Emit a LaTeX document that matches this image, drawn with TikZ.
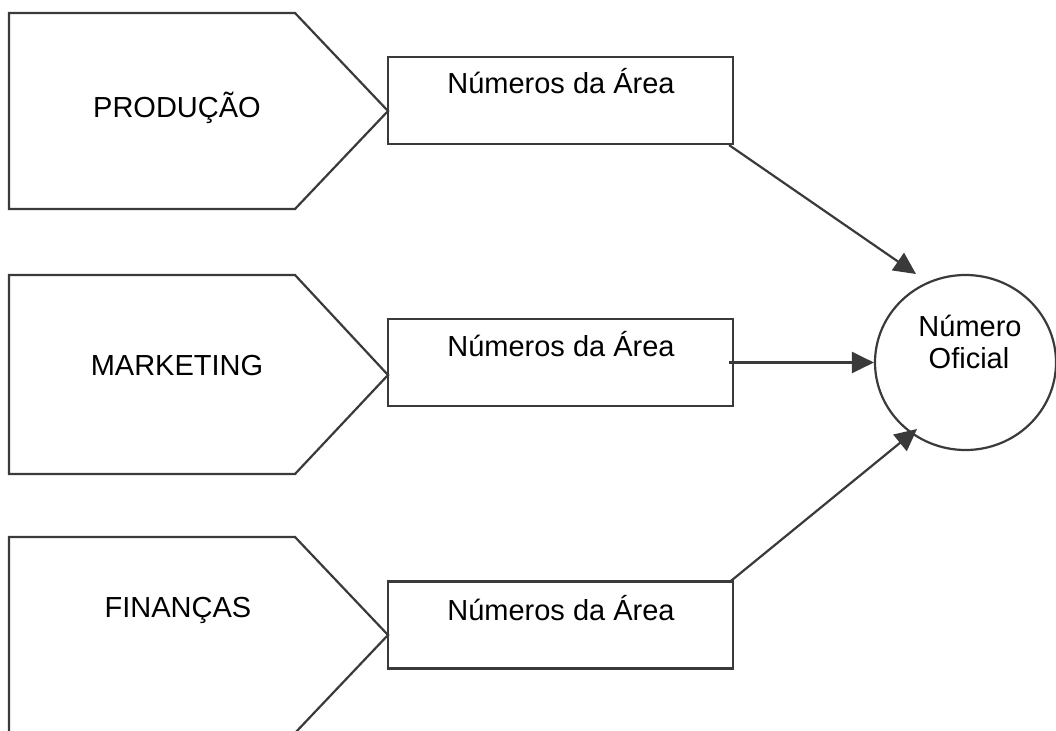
\documentclass[tikz,border=0pt]{standalone}
\usepackage{fontspec}
\setmainfont{Liberation Sans}
\usetikzlibrary{arrows.meta,shapes.geometric}
\definecolor{ln}{HTML}{3A3A3A}
\begin{document}
\begin{tikzpicture}[x=1pt,y=-1pt,
  shp/.style={draw=ln,line width=2.2pt,line join=miter},
  box/.style={draw=ln,line width=2.2pt,rectangle,minimum width=345pt,minimum height=87pt,inner sep=0pt},
  lbl/.style={font=\fontsize{29}{32}\selectfont,anchor=base,inner sep=0pt},
  arr/.style={draw=ln,line width=2.2pt,-{Triangle[length=22pt,width=21pt]}}]
\useasboundingbox (0,0) rectangle (1056,730);
\clip (0,0) rectangle (1056,730);
\fill[white] (0,0) rectangle (1056,730);
% pentagons
\draw[shp] (9,13) -- (295,13) -- (388,111) coordinate (p1) -- (295,209) -- (9,209) -- cycle;
\draw[shp] (9,275) -- (295,275) -- (388,375) coordinate (p2) -- (295,474) -- (9,474) -- cycle;
\draw[shp] (9,537) -- (295,537) -- (388,635) coordinate (p3) -- (295,733) -- (9,733) -- cycle;
\node[lbl] (tp1) at (177,118) {PRODUÇÃO};
\node[lbl] (tp2) at (177,375) {MARKETING};
\node[lbl] (tp3) at (178,617) {FINANÇAS};
% boxes
\node[box] (b1) at (560.5,100.5) {};
\node[box] (b2) at (560.5,362.5) {};
\node[box] (b3) at (560.5,625) {};
\node[lbl] (tb1) at (561,94) {Números da Área};
\node[lbl] (tb2) at (561,356) {Números da Área};
\node[lbl] (tb3) at (561,620) {Números da Área};
% circle
\node[draw=ln,line width=2.2pt,ellipse,minimum width=181pt,minimum height=175pt,inner sep=0pt] (c) at (965.5,362.5) {};
\node[lbl] (tc1) at (970,336) {Número};
\node[lbl] (tc2) at (969,368) {Oficial};
% arrows
\coordinate (t1) at (916,274);
\coordinate (t3) at (917,429);
\draw[arr] ([xshift=-5pt]b1.south east) -- (t1);
\draw[arr] ([xshift=-5pt]b2.east) -- (c.west);
\draw[arr] ([xshift=-5pt,yshift=-2pt]b3.north east) -- (t3);
\end{tikzpicture}
\end{document}
